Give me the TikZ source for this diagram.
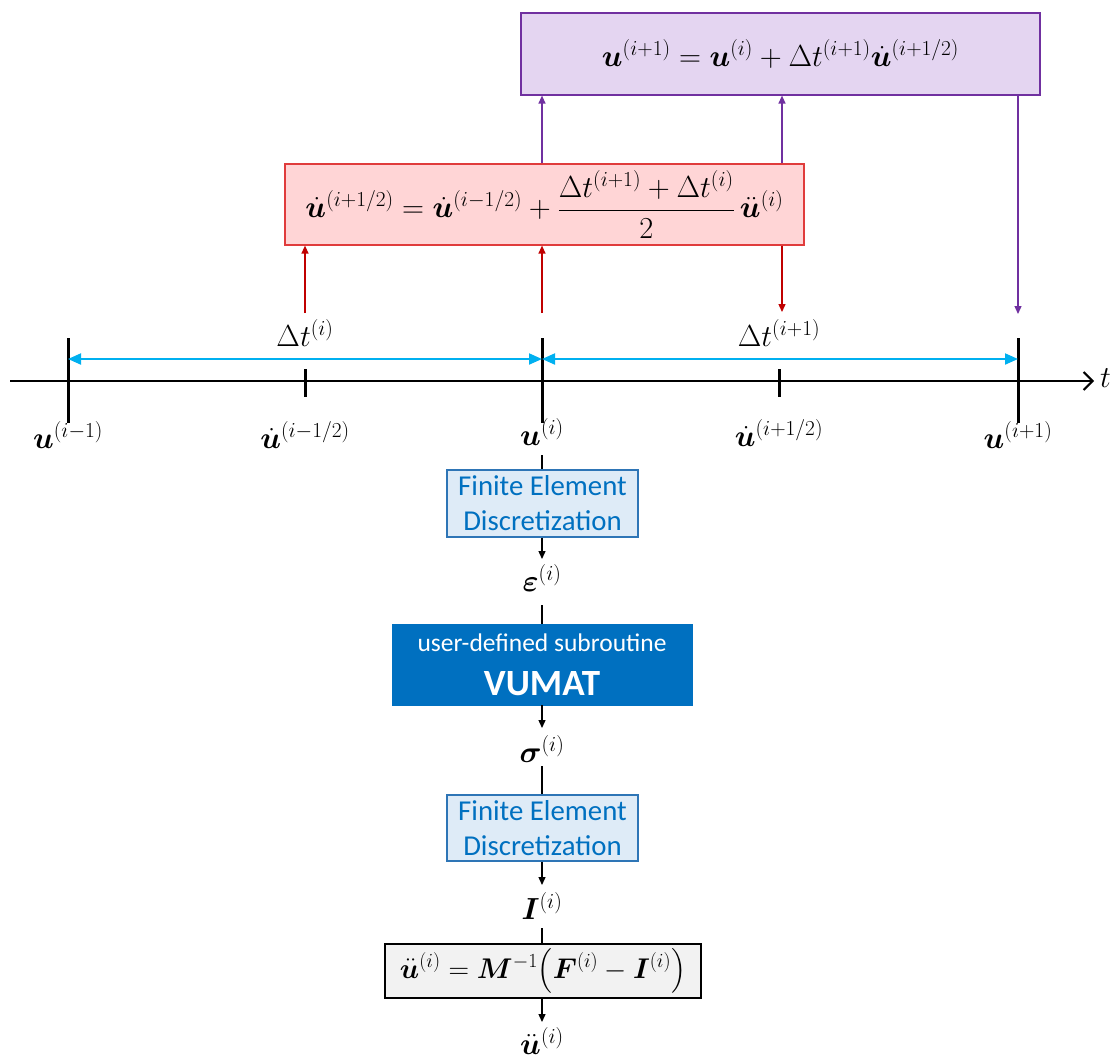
\RequirePackage{fix-cm}
\documentclass[tikz,border=0pt]{standalone}
\usepackage{amsmath,bm}
\usepackage{fontspec}
\setmainfont{Carlito}
\usetikzlibrary{arrows.meta}
\definecolor{purpfill}{HTML}{E4D5F1}
\definecolor{purpline}{HTML}{7030A0}
\definecolor{redfill}{HTML}{FFD5D6}
\definecolor{redline}{HTML}{E03C3C}
\definecolor{redarrow}{HTML}{C00000}
\definecolor{cyanarrow}{HTML}{00B0F0}
\definecolor{febfill}{HTML}{DEEBF7}
\definecolor{febline}{HTML}{2E75B6}
\definecolor{febtext}{HTML}{0070C0}
\definecolor{vublue}{HTML}{0070C0}
\definecolor{grayfill}{HTML}{F2F2F2}
\tikzset{
  eqbox/.style={draw, line width=1.2pt, minimum width=#1, inner sep=0pt, font=\fontsize{30.5}{36}\selectfont},
  mlabel/.style={font=\fontsize{30.5}{36}\selectfont, inner sep=0pt},
  febox/.style={draw=febline, fill=febfill, line width=1.2pt, minimum width=191pt, minimum height=67pt, text=febtext, align=center, font=\fontsize{28.8}{35}\selectfont, inner sep=0pt},
  redarr/.style={draw=redarrow, line width=1.3pt, -{Triangle[length=8pt,width=7pt]}},
  purarr/.style={draw=purpline, line width=1.3pt, -{Triangle[length=8pt,width=7pt]}},
  cyanarr/.style={draw=cyanarrow, line width=2pt, {Triangle[length=13pt,width=11pt]}-{Triangle[length=13pt,width=11pt]}},
  flowarr/.style={line width=1.3pt, -{Triangle[length=8pt,width=7pt]}},
  flowline/.style={line width=1.3pt},
  major/.style={line width=3pt},
  minor/.style={line width=3pt},
}
\begin{document}
\begin{tikzpicture}[x=1pt,y=-1pt]
\useasboundingbox (0,0) rectangle (1111,1061);
% equation boxes
\node[eqbox=519pt, draw=purpline, fill=purpfill, minimum height=82pt] (pb) at (780.5,54) {$\bm{u}^{(i+1)}=\bm{u}^{(i)}+\Delta t^{(i+1)}\dot{\bm{u}}^{(i+1/2)}$};
\node[eqbox=519pt, draw=redline, fill=redfill, minimum height=81pt] (rb) at (544.5,204.5) {$\dot{\bm{u}}^{(i+1/2)}=\dot{\bm{u}}^{(i-1/2)}+\dfrac{\Delta t^{(i+1)}+\Delta t^{(i)}}{2}\,\ddot{\bm{u}}^{(i)}$};
% timeline
\coordinate (ax0) at (10,381);
\coordinate (ax1) at (1094,381);
\draw[line width=2pt, -{Straight Barb[length=9pt,width=18pt,line width=2pt]}] (ax0) -- (ax1);
\node[mlabel, anchor=west] (tlab) at (1100,378) {$t$};
\draw[major] (68,338) -- (68,423);
\draw[major] (542,338) -- (542,423);
\draw[major] (1018,338) -- (1018,423);
\draw[minor] (305,369) -- (305,397);
\draw[minor] (779,369) -- (779,397);
\coordinate (Atop) at (68,359);
\coordinate (Ctop) at (542,359);
\coordinate (Etop) at (1018,359);
\draw[cyanarr] (Atop) -- (Ctop);
\draw[cyanarr] (Ctop) -- (Etop);
\node[mlabel] (dt1) at (305,333) {$\Delta t^{(i)}$};
\node[mlabel] (dt2) at (779,333) {$\Delta t^{(i+1)}$};
% labels below timeline
\node[mlabel] (l1) at (68,435) {$\bm{u}^{(i-1)}$};
\node[mlabel] (l2) at (305,435) {$\dot{\bm{u}}^{(i-1/2)}$};
\node[mlabel] (l3) at (542,432) {$\bm{u}^{(i)}$};
\node[mlabel] (l4) at (779,433) {$\dot{\bm{u}}^{(i+1/2)}$};
\node[mlabel] (l5) at (1018,435) {$\bm{u}^{(i+1)}$};
% red arrows
\coordinate (r1) at (305,313);
\coordinate (r2) at (542,313);
\coordinate (r3) at (782,312);
\draw[redarr] (r1) -- (r1 |- rb.south);
\draw[redarr] (r2) -- (r2 |- rb.south);
\draw[redarr] (r3 |- rb.south) -- (r3);
% purple arrows
\coordinate (p1) at (542,164);
\coordinate (p2) at (782,164);
\draw[purarr] (p1 |- rb.north) -- (p1 |- pb.south);
\draw[purarr] (p2 |- rb.north) -- (p2 |- pb.south);
\coordinate (p3) at (1018,314);
\draw[purarr] (p3 |- pb.south) -- (p3);
% flow chart
\node[febox] (fe1) at (542.5,503.5) {Finite Element\\Discretization};
\node[mlabel] (eps) at (542,578) {$\bm{\varepsilon}^{(i)}$};
\node[draw=vublue, fill=vublue, minimum width=300pt, minimum height=81pt, text=white, align=center, inner sep=0pt, font=\fontsize{25.5}{44}\selectfont] (vu) at (542,664.5) {user-defined subroutine\\{\fontsize{37}{44}\selectfont\bfseries VUMAT}};
\node[mlabel] (sig) at (542,749) {$\bm{\sigma}^{(i)}$};
\node[febox, minimum height=66pt] (fe2) at (542.5,828) {Finite Element\\Discretization};
\node[mlabel] (Ilab) at (542,906) {$\bm{I}^{(i)}$};
\node[eqbox=316pt, fill=grayfill, minimum height=54pt, font=\fontsize{28.5}{34}\selectfont] (acc) at (543,971) {$\ddot{\bm{u}}^{(i)}=\bm{M}^{-1}\bigl(\bm{F}^{(i)}-\bm{I}^{(i)}\bigr)$};
\node[mlabel] (udd) at (542,1041) {$\ddot{\bm{u}}^{(i)}$};
\coordinate (f0) at (542,455);
\draw[flowline] (f0) -- (fe1.north -| f0);
\draw[flowarr] (fe1.south -| f0) -- (542,559);
\draw[flowline] (542,605) -- (vu.north -| f0);
\draw[flowarr] (vu.south -| f0) -- (542,728);
\draw[flowline] (542,766) -- (fe2.north -| f0);
\draw[flowarr] (fe2.south -| f0) -- (542,885);
\draw[flowline] (542,928) -- (acc.north -| f0);
\draw[flowarr] (acc.south -| f0) -- (542,1022);
\end{tikzpicture}
\end{document}
